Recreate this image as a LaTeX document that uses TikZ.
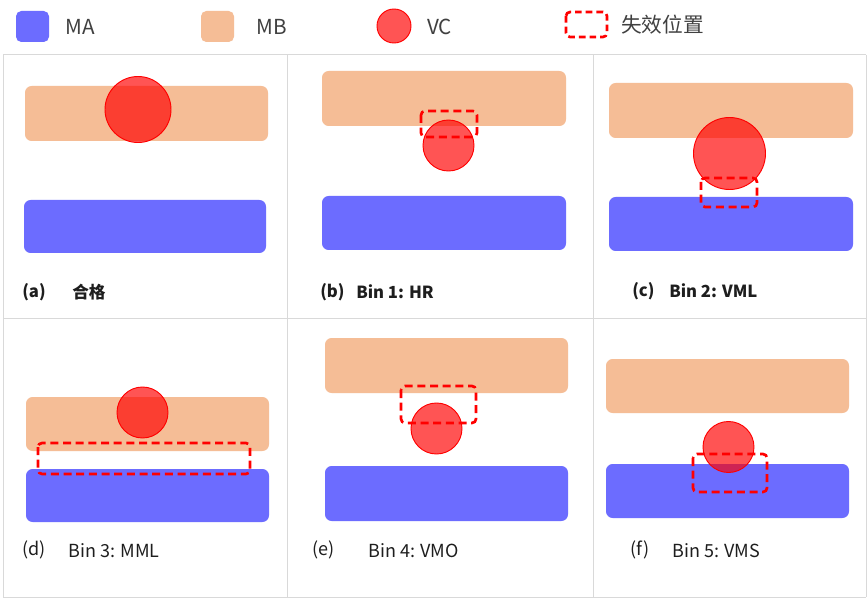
\documentclass[tikz,border=0pt]{standalone}
\usepackage{fontspec}
\setmainfont{Noto Sans CJK SC}
\definecolor{maC}{HTML}{6C6CFF}
\definecolor{mbC}{HTML}{F5BD96}
\definecolor{gridC}{HTML}{D9D9D9}
\definecolor{vcC}{HTML}{FF0000}
\definecolor{txtC}{HTML}{1E1E1E}
\tikzset{
  mabar/.style={fill=maC, rounded corners=5pt},
  mbbar/.style={fill=mbC, rounded corners=5pt},
  vcdot/.style={fill=vcC, fill opacity=0.67, draw=vcC, line width=0.7pt},
  failbox/.style={draw=vcC, line width=2pt, dash pattern=on 6pt off 3.5pt, rounded corners=3pt},
  gridline/.style={draw=gridC, line width=0.75pt},
  leg/.style={anchor=west, font=\fontsize{15.5}{18}\selectfont, text=txtC!85, inner sep=0pt},
  labtop/.style={anchor=west, font=\fontsize{12.5}{15}\selectfont\bfseries, text=txtC, inner sep=0pt},
  labbot/.style={anchor=west, font=\fontsize{13.5}{16}\selectfont, text=txtC, inner sep=0pt},
}
\begin{document}
\begin{tikzpicture}[x=0.75pt, y=-0.75pt]
\useasboundingbox (0,0) rectangle (868,599);
\fill[white] (0,0) rectangle (868,599);

% grid
\draw[gridline] (3,55) -- (866,55);
\draw[gridline] (3,318) -- (866,318);
\draw[gridline] (3,597) -- (866,597);
\draw[gridline] (3,55) -- (3,597);
\draw[gridline] (287,55) -- (287,597);
\draw[gridline] (593,55) -- (593,597);
\draw[gridline] (866,55) -- (866,597);

% legend
\fill[mabar, rounded corners=4pt] (16,11) rectangle (49,42);
\node[leg] (legMA) at (65,27) {MA};
\fill[mbbar, rounded corners=4pt] (201,11) rectangle (234,42);
\node[leg] (legMB) at (256,27) {MB};
\filldraw[vcdot] (394,26) circle (17);
\node[leg] (legVC) at (427,27) {VC};
\draw[failbox, line width=2pt, dash pattern=on 5pt off 3pt] (566,12) rectangle (607,37);
\node[leg] (legFail) at (621,25) {失效位置};

% (a)
\fill[mbbar] (25,86) rectangle (268,141);
\fill[mabar] (24,200) rectangle (266,253);
\filldraw[vcdot] (138,109.5) circle (33);
\node[labtop] (la) at (22,292) {(a)};
\node[labtop] (ta) at (72,292) {合格};

% (b)
\fill[mbbar] (322,71) rectangle (566,126);
\fill[mabar] (322,196) rectangle (566,250);
\filldraw[vcdot] (448.5,145.5) circle (25.5);
\draw[failbox] (421,111) rectangle (477,137);
\node[labtop] (lb) at (320,292) {(b)};
\node[labtop] (tb) at (356,292) {Bin 1: HR};

% (c)
\fill[mbbar] (609,83) rectangle (853,138);
\fill[mabar] (609,197) rectangle (853,251);
\filldraw[vcdot] (729.5,153.5) circle (36);
\draw[failbox] (701,178) rectangle (757,207);
\node[labtop] (lc) at (632,291) {(c)};
\node[labtop] (tc) at (669,291) {Bin 2: VML};

% (d)
\fill[mbbar] (26,397) rectangle (269,451);
\fill[mabar] (26,469) rectangle (269,522);
\filldraw[vcdot] (142.5,412.5) circle (25.5);
\draw[failbox] (38,443) rectangle (250,474);
\node[labbot] (ld) at (22,550) {(d)};
\node[labbot] (td) at (68,551) {Bin 3: MML};

% (e)
\fill[mbbar] (325,338) rectangle (568,393);
\fill[mabar] (325,466) rectangle (568,521);
\filldraw[vcdot] (436.5,428.5) circle (25.5);
\draw[failbox] (401,386) rectangle (476,423);
\node[labbot] (le) at (312,550) {(e)};
\node[labbot] (te) at (368,551) {Bin 4: VMO};

% (f)
\fill[mbbar] (606,359) rectangle (849,413);
\fill[mabar] (606,464) rectangle (849,518);
\filldraw[vcdot] (728.5,447) circle (25.5);
\draw[failbox] (693,454) rectangle (767,492);
\node[labbot] (lf) at (630,550) {(f)};
\node[labbot] (tf) at (672,551) {Bin 5: VMS};
\end{tikzpicture}
\end{document}
